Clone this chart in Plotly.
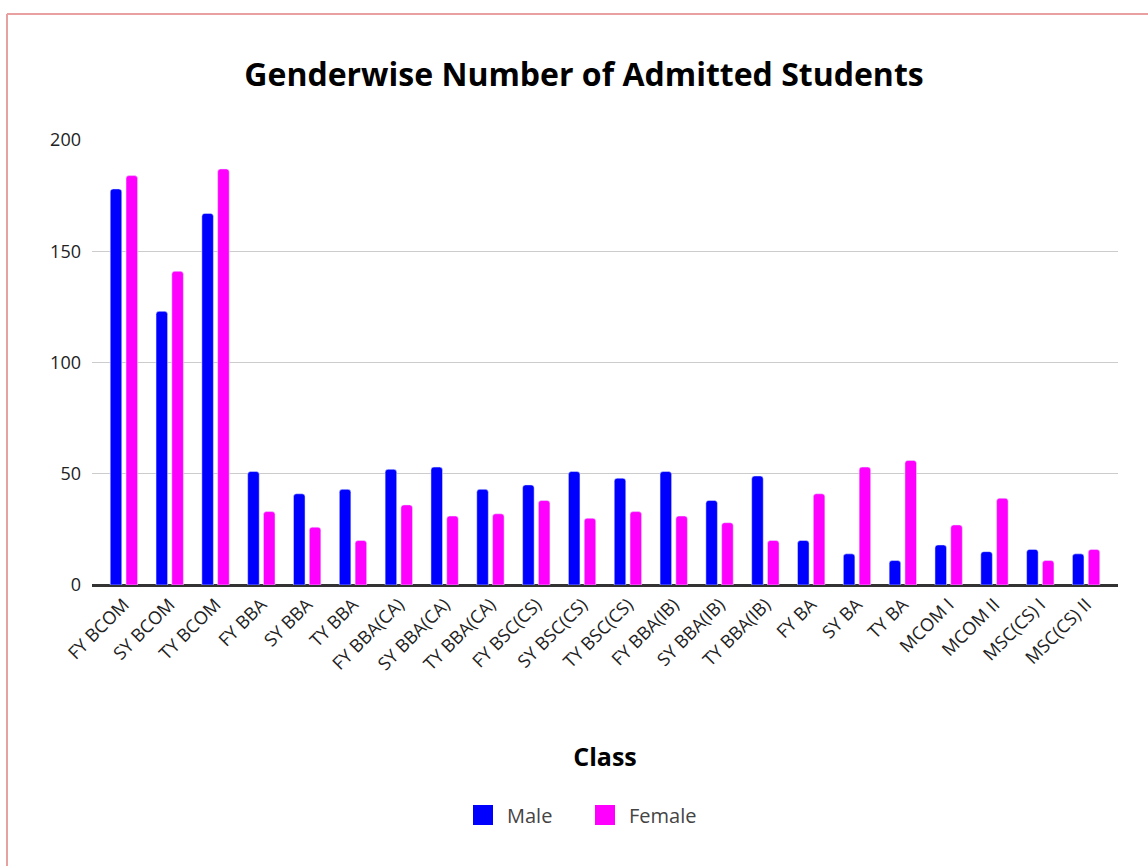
import plotly.graph_objects as go

classes = ["FY BCOM", "SY BCOM", "TY BCOM", "FY BBA", "SY BBA", "TY BBA",
           "FY BBA(CA)", "SY BBA(CA)", "TY BBA(CA)", "FY BSC(CS)", "SY BSC(CS)",
           "TY BSC(CS)", "FY BBA(IB)", "SY BBA(IB)", "TY BBA(IB)", "FY BA", "SY BA",
           "TY BA", "MCOM I", "MCOM II", "MSC(CS) I", "MSC(CS) II"]
male = [178, 123, 167, 51, 41, 43, 52, 53, 43, 45, 51, 48, 51, 38, 49, 20, 14, 11, 18, 15, 16, 14]
female = [184, 141, 187, 33, 26, 20, 36, 31, 32, 38, 30, 33, 31, 28, 20, 41, 53, 56, 27, 39, 11, 16]
y_ticks = [0, 50, 100, 150, 200]

MALE_C = "#0000ff"
FEMALE_C = "#ff00ff"
FONT = "Open Sans"
TXT = "#222222"

W, H = 1148, 866
L, R, T, B = 92, 1118, 140, 585  # plot area in pixels
PW, PH = R - L, B - T
PAD = 0.196  # extra category padding at both ends

fig = go.Figure()
fig.add_trace(go.Bar(x=classes, y=male, name="Male", marker=dict(color=MALE_C, cornerradius=3),
                     showlegend=False))
fig.add_trace(go.Bar(x=classes, y=female, name="Female", marker=dict(color=FEMALE_C, cornerradius=3),
                     showlegend=False))
# legend entries with larger square swatches
fig.add_trace(go.Scatter(x=[None], y=[None], mode="markers", name="Male",
                         marker=dict(symbol="square", size=16, color=MALE_C,
                                     line=dict(color=MALE_C, width=4))))
fig.add_trace(go.Scatter(x=[None], y=[None], mode="markers", name="Female",
                         marker=dict(symbol="square", size=16, color=FEMALE_C,
                                     line=dict(color=FEMALE_C, width=4))))

fig.update_layout(
    width=W, height=H,
    margin=dict(l=L, r=W - R, t=T, b=H - B, autoexpand=False),
    paper_bgcolor="white", plot_bgcolor="white",
    barmode="group", bargap=0.31, bargroupgap=0.27,
    font=dict(family=FONT, color=TXT),
    title=dict(text="<b>Genderwise Number of Admitted Students</b>",
               x=(584 - L) / PW, xref="paper", xanchor="center",
               y=1 - 75 / H, yanchor="middle",
               font=dict(family=FONT, size=32, color="#000000")),
    legend=dict(orientation="h", x=(581 - L) / PW, xanchor="center",
                y=(B - 815) / PH, yanchor="middle",
                font=dict(family=FONT, size=20, color="#444444"),
                itemwidth=38, entrywidth=69, entrywidthmode="pixels",
                traceorder="normal"),
    xaxis=dict(
        tickangle=-45, tickfont=dict(family=FONT, size=18, color=TXT),
        showgrid=False, showline=True, linecolor="#333333", linewidth=2,
        ticks="", type="category", range=[-0.5 - PAD, len(classes) - 0.5 + PAD],
        title=dict(text="<b>Class</b>", font=dict(family=FONT, size=25, color="#000000"),
                   standoff=74),
    ),
    yaxis=dict(
        range=[0, 200], tickvals=y_ticks, showgrid=True, gridcolor="#cccccc", gridwidth=1,
        zeroline=True, zerolinecolor="#333333", zerolinewidth=2,
        tickfont=dict(family=FONT, size=18, color=TXT), ticks="",
        ticklabelstandoff=10, fixedrange=True,
    ),
    shapes=[
        dict(type="line", xref="paper", yref="paper",
             x0=(7 - L) / PW, x1=(1160 - L) / PW,
             y0=(B - 14) / PH, y1=(B - 14) / PH,
             line=dict(color="#e8a0a0", width=2), layer="above"),
        dict(type="line", xref="paper", yref="paper",
             x0=(7 - L) / PW, x1=(7 - L) / PW,
             y0=(B - 14) / PH, y1=(B - 880) / PH,
             line=dict(color="#e8a0a0", width=2), layer="above"),
    ],
)

fig.write_html("out.html", config={"displayModeBar": False},
               post_script="document.body.style.margin='0';document.body.style.overflow='hidden';")
